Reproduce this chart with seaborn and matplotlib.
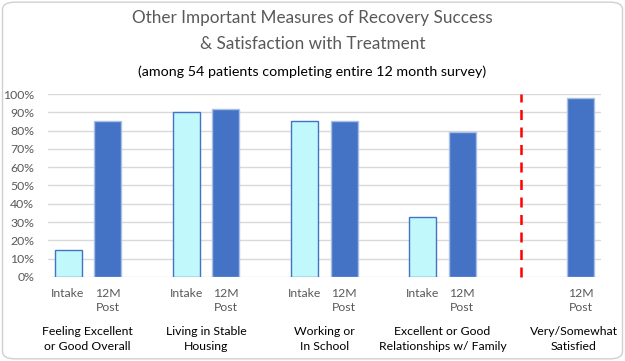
import numpy as np
import pandas as pd
import matplotlib.pyplot as plt
import seaborn as sns
from matplotlib.patches import FancyBboxPatch
from matplotlib.ticker import PercentFormatter, MultipleLocator

# Chart values (percent of patients)
measures = ["Feeling Excellent\nor Good Overall", "Living in Stable\nHousing",
            "Working or\nIn School", "Excellent or Good\nRelationships w/ Family",
            "Very/Somewhat\nSatisfied"]
intake = [15, 90, 85, 33, np.nan]
post = [85, 92, 85, 79, 98]
periods = ["Intake", "12M\nPost"]

df = pd.DataFrame({
    "measure": measures * 2,
    "pct": intake + post,
    "period": [periods[0]] * len(measures) + [periods[1]] * len(measures),
})

sns.set_style("white")
plt.rcParams["font.family"] = ["Lato", "DejaVu Sans"]

fig = plt.figure(figsize=(6.25, 3.61), dpi=100)
ax = fig.add_axes([0.0768, 0.2327, 0.8848, 0.5069])

sns.barplot(data=df, x="measure", y="pct", hue="period", hue_order=periods,
            order=measures, palette=["#C0F8FB", "#4472C4"], width=0.667, gap=0.316,
            saturation=1, legend=False, ax=ax)

# edge styles per series
for patch in ax.containers[0]:
    patch.set_edgecolor("#4472C4")
    patch.set_linewidth(1.0)
for patch in ax.containers[1]:
    patch.set_edgecolor("#A9BFE6")
    patch.set_linewidth(1.0)

ax.set_ylim(0, 100)
ax.yaxis.set_major_locator(MultipleLocator(10))
ax.yaxis.set_major_formatter(PercentFormatter(decimals=0))
ax.grid(axis="y", color="#D9D9D9", linewidth=1)
ax.set_axisbelow(True)
sns.despine(ax=ax, left=True, bottom=True, top=True, right=True)
ax.tick_params(axis="both", length=0, colors="#595959", labelsize=8.8)
ax.tick_params(axis="y", pad=10)
ax.set_xlabel("")
ax.set_ylabel("")

# per-bar tick labels
ticks, labels = [], []
for cont, lab in zip(ax.containers, periods):
    for patch in cont:
        if np.isfinite(patch.get_height()) and patch.get_height() > 0:
            ticks.append(patch.get_x() + patch.get_width() / 2)
            labels.append(lab)
order = np.argsort(ticks)
ax.set_xticks(np.array(ticks)[order])
ax.set_xticklabels(np.array(labels)[order], va="top", linespacing=1.3)
ax.tick_params(axis="x", pad=8)
ax.set_xlim(-0.336, 4.339)

# group labels
trans = ax.get_xaxis_transform()
for i, m in enumerate(measures):
    x = i if i < len(measures) - 1 else i + 0.11
    ax.text(x, -0.27, m, transform=trans, ha="center", va="top",
            fontsize=8.8, color="black", linespacing=1.4)

# separator before satisfaction bar
post_x = [p.get_x() + p.get_width() / 2 for p in ax.containers[1]]
ax.axvline((post_x[-2] + post_x[-1]) / 2, ymin=0, ymax=1, color="#FF0000",
           linestyle=(0, (4, 3)), linewidth=1.8, clip_on=False)

fig.text(0.5, 1 - 18 / 361, "Other Important Measures of Recovery Success",
         ha="center", va="center", fontsize=12.3, color="#595959")
fig.text(0.5, 1 - 44 / 361, "& Satisfaction with Treatment",
         ha="center", va="center", fontsize=12.3, color="#595959")
fig.text(0.5, 1 - 72 / 361, "(among 54 patients completing entire 12 month survey)",
         ha="center", va="center", fontsize=10.3, color="black")

border = FancyBboxPatch((0.004, 0.006), 0.992, 0.988, boxstyle="round,pad=0,rounding_size=0.02",
                        transform=fig.transFigure, fill=False, edgecolor="#D0D0D0", linewidth=1)
fig.patches.append(border)

fig.savefig("out.png", dpi=100)
